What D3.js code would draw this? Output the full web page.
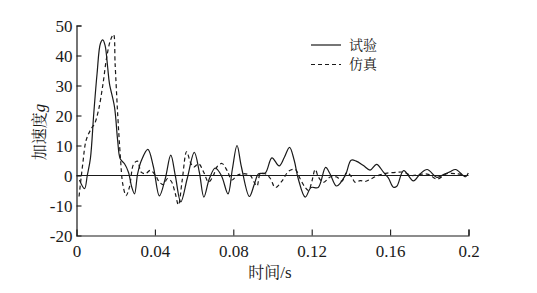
<!DOCTYPE html>
<html><head><meta charset="utf-8">
<script src="https://cdn.jsdelivr.net/npm/d3@7"></script>
<style>body{margin:0;background:#fff} svg text{font-family:"Liberation Serif","Times New Roman",serif}</style>
</head><body>
<svg id="c" width="537" height="293"></svg>
<script>
const xTicks = [0, 0.04, 0.08, 0.12, 0.16, 0.2];
const xTickLabels = ["0", "0.04", "0.08", "0.12", "0.16", "0.2"];
const yTicks = [-20, -10, 0, 10, 20, 30, 40, 50];
const yTickLabels = ["-20", "-10", "0", "10", "20", "30", "40", "50"];
const seriesNames = ["试验", "仿真"];

const expT = [0.0015,0.0041,0.0055,0.0071,0.0088,0.0105,0.0122,0.0134,0.0146,0.0159,0.0168,0.0194,0.0210,0.0223,0.0245,0.0265,0.0282,0.0296,0.0312,0.0331,0.0364,0.0392,0.0423,0.0453,0.0481,0.0504,0.0532,0.0565,0.0601,0.0627,0.0650,0.0678,0.0708,0.0739,0.0773,0.0795,0.0819,0.0841,0.0882,0.0907,0.0929,0.0963,0.0997,0.1034,0.1060,0.1087,0.1111,0.1131,0.1167,0.1197,0.1233,0.1271,0.1294,0.1327,0.1371,0.1401,0.1427,0.1464,0.1498,0.1531,0.1566,0.1591,0.1617,0.1634,0.1669,0.1719,0.1753,0.1789,0.1839,0.1875,0.1905,0.1934,0.1973,0.1986,0.1999];
const expV = [-1.5,-4.4,0,5.7,20.6,34,44,45.2,43.3,36.1,30.7,22.8,11.7,5.6,3.9,1.1,-3.9,-6.1,0.6,5,8.7,3,-6.8,-1,6.8,0,-8.8,-1,7.7,1,-7.2,-1,2.5,0,-6.1,2,10,3,-7,-3,0.6,0.8,5.9,3.2,6,9.4,5,-1,-7.2,-4,-4,2.7,0.5,-3.5,0,5.1,4.8,3.3,1.8,3.7,1.1,-0.8,-3.9,-3.6,1.6,-1.8,0.5,2,-0.6,0.4,1.2,2,0,-0.4,0.8];

const simT = [0.0013,0.0032,0.0049,0.0075,0.0092,0.0112,0.0134,0.0154,0.0173,0.0189,0.0197,0.0210,0.0224,0.0236,0.0253,0.0270,0.0292,0.0311,0.0330,0.0352,0.0377,0.0403,0.0423,0.0443,0.0464,0.0484,0.0504,0.0520,0.0539,0.0562,0.0581,0.0598,0.0623,0.0649,0.0674,0.0698,0.0718,0.0742,0.0768,0.0793,0.0819,0.0852,0.0887,0.0904,0.0921,0.0938,0.0963,0.0989,0.1014,0.1048,0.1082,0.1116,0.1141,0.1167,0.1184,0.1201,0.1218,0.1235,0.1260,0.1294,0.1328,0.1354,0.1379,0.1405,0.1422,0.1447,0.1473,0.1498,0.1524,0.1558,0.1585,0.1636,0.1668,0.1711,0.1753,0.1795,0.1839,0.1889,0.1940,0.1982];
const simV = [-7,3.9,11.7,15.6,17.2,21.7,30,39.4,45,47,37.2,20.6,6.1,-2.8,-6.7,-3.9,3.9,4.8,1.1,0.6,1.7,0,-2.2,-3,-1,-2,-6,-9.8,-1.7,8,4.4,2.8,3.9,1.1,-2.2,0,3,4,1.7,-1.5,0,0.6,0,-2,-3.5,0.6,0.6,-1,-4,-1.9,1.4,2,-1.1,-4,-5,-1.9,2,-0.6,-2.3,-0.5,-0.5,-1.9,1,-0.6,-2.3,-1.7,-2,-1.3,-0.4,0.4,0.8,1.1,1.1,0,0.4,0.4,-1.2,0.6,0.6,0.2];

const svg = d3.select("#c");
const x = d3.scaleLinear().domain([0, 0.2]).range([76.5, 468.5]);
const y = d3.scaleLinear().domain([-20, 50]).range([235.5, 25.5]);
const ink = "#1a1a1a";
const serif = '"Liberation Serif","Times New Roman",serif';
const cjk = '"Noto Serif CJK SC","Noto Sans CJK SC",serif';

// axes
const xAxis = svg.append("g").attr("transform", `translate(0,${y(-20)})`)
  .call(d3.axisBottom(x).tickValues(xTicks).tickSize(-6).tickPadding(9)
    .tickFormat((d,i)=>xTickLabels[i]));
const yAxis = svg.append("g").attr("transform", `translate(${x(0)},0)`)
  .call(d3.axisLeft(y).tickValues(yTicks).tickSize(-5).tickPadding(4)
    .tickFormat((d,i)=>yTickLabels[i]));
[xAxis, yAxis].forEach(g => {
  g.attr("font-family", serif).attr("font-size", 17);
  g.select(".domain").attr("stroke", ink).attr("stroke-width", 1.2);
  g.selectAll(".tick line").attr("stroke", ink).attr("stroke-width", 1.1);
  g.selectAll(".tick text").attr("fill", ink).attr("font-family", serif)
    .style("font-family", serif, "important").style("font-size", "17px");
});
xAxis.selectAll(".tick").filter(d => d === 0).select("line").remove();
yAxis.selectAll(".tick").filter(d => d === -20).select("line").remove();
yAxis.selectAll(".tick text").attr("dy", "0.35em");

// zero line
svg.append("line").attr("x1", x(0)).attr("x2", x(0.2)).attr("y1", y(0)).attr("y2", y(0))
  .attr("stroke", ink).attr("stroke-width", 1.1);

const line = d3.line().x(d => x(d[0])).y(d => y(d[1])).curve(d3.curveCatmullRom.alpha(0.5));
const expData = expT.map((t,i)=>[t, expV[i]]);
const simData = simT.map((t,i)=>[t, simV[i]]);
svg.append("path").datum(simData).attr("d", line).attr("fill","none")
  .attr("stroke", ink).attr("stroke-width", 1.2).attr("stroke-dasharray", "4,3");
svg.append("path").datum(expData).attr("d", line).attr("fill","none")
  .attr("stroke", ink).attr("stroke-width", 1.2);

// legend
const lg = svg.append("g");
lg.append("line").attr("x1",311).attr("x2",341).attr("y1",45).attr("y2",45).attr("stroke",ink).attr("stroke-width",1.2);
lg.append("line").attr("x1",311).attr("x2",341).attr("y1",64.5).attr("y2",64.5).attr("stroke",ink).attr("stroke-width",1.2).attr("stroke-dasharray","4,3");
lg.append("text").attr("x",349).attr("y",45).attr("dy","0.35em").text(seriesNames[0])
  .style("font-family",cjk).style("font-size","14px").attr("fill",ink);
lg.append("text").attr("x",349).attr("y",64.5).attr("dy","0.35em").text(seriesNames[1])
  .style("font-family",cjk).style("font-size","14px").attr("fill",ink);

// axis titles
const xt = svg.append("text").attr("x", 270).attr("y", 278).attr("text-anchor","middle")
  .attr("fill", ink).style("font-size","16px");
xt.append("tspan").style("font-family",cjk).text("时间");
xt.append("tspan").style("font-family",serif).style("font-size","17px").text("/s");

const yt = svg.append("text").attr("transform","translate(45,132) rotate(-90)").attr("text-anchor","middle")
  .attr("fill", ink).style("font-size","16px");
yt.append("tspan").style("font-family",cjk).text("加速度");
yt.append("tspan").style("font-family",serif).style("font-style","italic").style("font-size","17px").text("g");
</script>
</body></html>
